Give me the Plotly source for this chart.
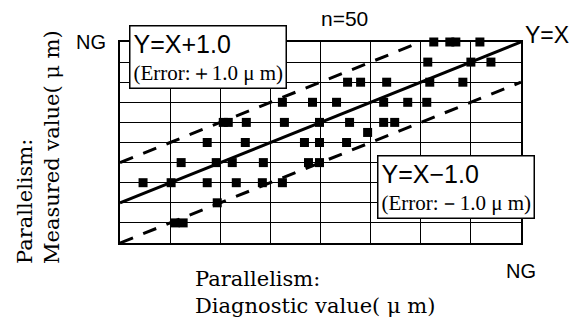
import plotly.graph_objects as go

# parallelism: diagnostic value (x) vs measured value (y), um
diag_vals = [3.13, 3.29, 3.35, 3.59,
             3.07, 3.50, 3.70,
             2.27, 2.40, 2.66, 3.09, 3.42,
             1.62, 1.92, 2.16, 2.63, 2.87, 3.06,
             1.03, 1.08, 1.26, 1.64, 1.99, 2.29, 2.63, 2.74,
             2.47,
             0.87, 1.25, 1.84, 1.99, 2.26,
             0.61, 0.96, 1.12, 1.43, 1.88, 1.99,
             0.23, 0.51, 0.87, 1.16, 1.42, 1.62,
             0.97,
             0.55, 0.63]
meas_vals = [4.0, 4.0, 4.0, 4.0,
             3.5, 3.5, 3.5,
             3.0, 3.0, 3.0, 3.0, 3.0,
             2.5, 2.5, 2.5, 2.5, 2.5, 2.5,
             2.0, 2.0, 2.0, 2.0, 2.0, 2.0, 2.0, 2.0,
             1.75,
             1.5, 1.5, 1.5, 1.5, 1.5,
             1.0, 1.0, 1.0, 1.0, 1.0, 1.0,
             0.5, 0.5, 0.5, 0.5, 0.5, 0.5,
             0.0,
             -0.5, -0.5]

x_range = [0.0, 4.0]
y_range = [-1.0, 4.0]
x_ticks = [0.0, 0.5, 1.0, 1.5, 2.0, 2.5, 3.0, 3.5, 4.0]
x_ticktext = ["", "", "", "", "", "", "", "", "NG"]
y_ticks = [-1.0, -0.5, 0.0, 0.5, 1.0, 1.5, 2.0, 2.5, 3.0, 3.5, 4.0]
y_ticktext = ["", "", "", "", "", "", "", "", "", "", "NG"]

# reference lines Y = X + offset
ref_offsets = [0.0, 1.0, -1.0]
ref_dash = ["solid", "14px,11px", "14px,11px"]

W, H = 580, 320
L, R, T, B = 120, 59, 42, 77
PW, PH = W - L - R, H - T - B

SERIF = "Liberation Serif, Times New Roman, serif"
TITLE_SERIF = "DejaVu Serif, serif"
SANS = "Liberation Sans, Arial, sans-serif"


def px_x(p):
    return (p - L) / PW


def px_y(p):
    return 1 - (p - T) / PH


fig = go.Figure()

for off, dash in zip(ref_offsets, ref_dash):
    xa = max(x_range[0], y_range[0] - off)
    xb = min(x_range[1], y_range[1] - off)
    fig.add_trace(go.Scatter(x=[xa, xb], y=[xa + off, xb + off], mode="lines",
                             line=dict(color="black", width=3, dash=dash),
                             hoverinfo="skip", showlegend=False))

fig.add_trace(go.Scatter(x=diag_vals, y=meas_vals, mode="markers",
                         marker=dict(symbol="square", size=9, color="black"),
                         cliponaxis=False, showlegend=False))

axis_common = dict(showgrid=True, gridcolor="black", gridwidth=1.3,
                   showline=True, linecolor="black", linewidth=2, mirror=True,
                   zeroline=False, ticks="", tickmode="array", automargin=False,
                   tickfont=dict(family=SANS, size=20, color="black"),
                   fixedrange=True)
fig.update_xaxes(range=x_range, tickvals=x_ticks, ticktext=x_ticktext,
                 ticklabelstandoff=9, **axis_common)
fig.update_yaxes(range=y_range, tickvals=y_ticks, ticktext=y_ticktext,
                 ticklabelstandoff=8, **axis_common)

box1 = ('<span style="font-family:Liberation Sans, Arial; font-size:25px">Y=X+1.0</span>'
        '<br>(Error:＋1.0 μ m)')
box2 = ('<span style="font-family:Liberation Sans, Arial; font-size:25px">Y=X−1.0</span>'
        '<br>(Error:－1.0 μ m)')

annotations = [
    dict(text=box1, x=px_x(129), y=px_y(25), xanchor="left", yanchor="top",
         align="left", bgcolor="white", bordercolor="black", borderwidth=1.5,
         borderpad=3, font=dict(family=SERIF, size=21, color="black")),
    dict(text=box2, x=px_x(377), y=px_y(155), xanchor="left", yanchor="top",
         align="left", bgcolor="white", bordercolor="black", borderwidth=1.5,
         borderpad=3, font=dict(family=SERIF, size=21, color="black")),
    dict(text="n=50", x=px_x(344), y=px_y(19), xanchor="center", yanchor="middle",
         font=dict(family=SANS, size=21, color="black")),
    dict(text="Y=X", xref="x", yref="y", x=x_range[1], y=y_range[1],
         xanchor="left", yanchor="middle", xshift=2, yshift=7,
         font=dict(family=SANS, size=23, color="black")),
    dict(text="Parallelism:<br>Measured value( μ m)", textangle=-90, align="left",
         x=px_x(38), y=px_y(147), xanchor="center", yanchor="middle",
         font=dict(family=TITLE_SERIF, size=21, color="black")),
    dict(text="Parallelism:<br>Diagnostic value( μ m)", align="left",
         x=px_x(193), y=px_y(265), xanchor="left", yanchor="top",
         font=dict(family=TITLE_SERIF, size=21, color="black")),
]
for a in annotations:
    a.setdefault("xref", "paper")
    a.setdefault("yref", "paper")
    a["showarrow"] = False

fig.update_layout(width=W, height=H, margin=dict(l=L, r=R, t=T, b=B),
                  paper_bgcolor="white", plot_bgcolor="white",
                  showlegend=False, annotations=annotations)

# page body has a default 8px margin; drop it so the figure sits at 0,0
fig.write_html("out.html", config={"displayModeBar": False},
               post_script="document.body.style.margin='0';")
